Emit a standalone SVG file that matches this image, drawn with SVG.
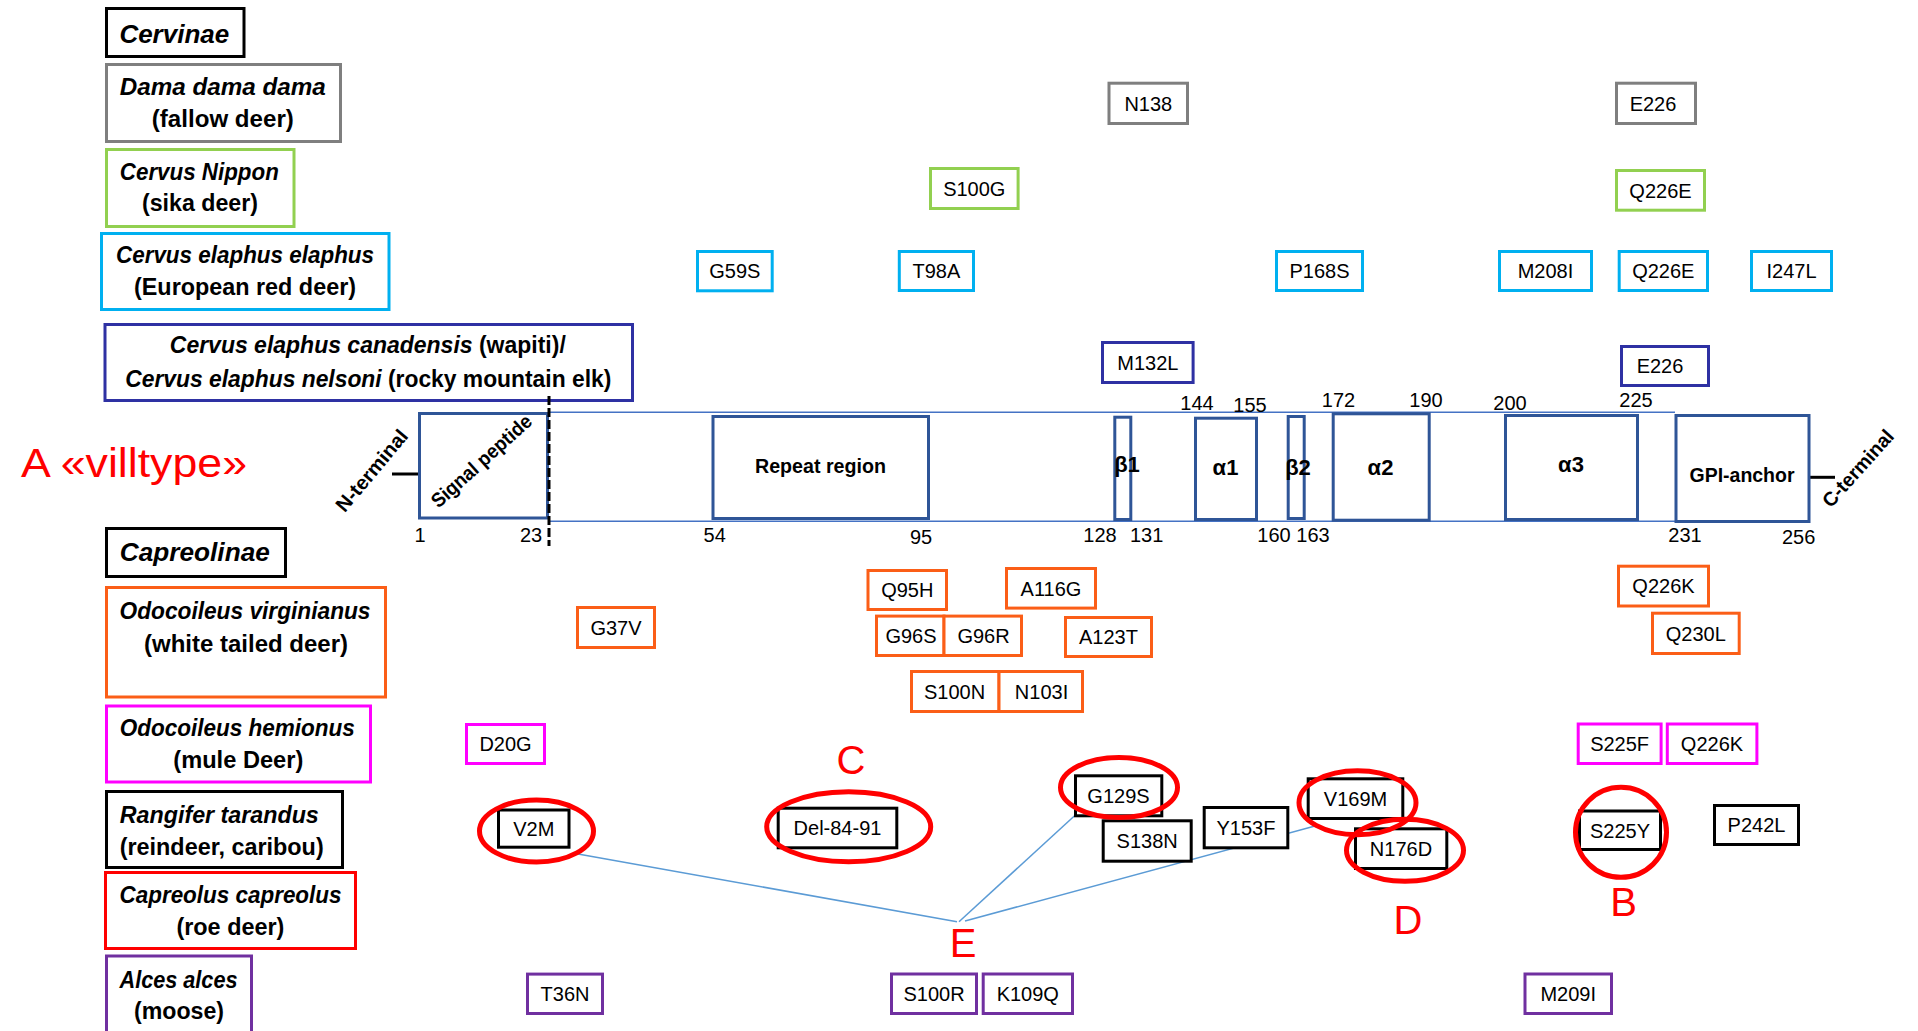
<svg xmlns="http://www.w3.org/2000/svg" width="1918" height="1031" viewBox="0 0 1918 1031">
<style>
.sp{fill:#fff;stroke-width:3}
.sx{font-family:"Liberation Sans",Arial,sans-serif;font-weight:bold;font-style:italic;font-size:23px;fill:#000;text-anchor:middle}
.up{font-style:normal}
.big{font-size:26px}
.mb{fill:#fff;stroke-width:3}
.mt{font-family:"Liberation Sans",Arial,sans-serif;font-size:20px;fill:#000;text-anchor:middle}
.dom{fill:#fff;stroke:#2f5597;stroke-width:3}
.dt{font-family:"Liberation Sans",Arial,sans-serif;font-weight:bold;font-size:20px;fill:#000;text-anchor:middle}
.gk{font-size:22px}
.num{font-family:"Liberation Sans",Arial,sans-serif;font-size:20px;fill:#000;text-anchor:middle}
.red{font-family:"Liberation Sans",Arial,sans-serif;font-size:40px;fill:#ff0000;text-anchor:middle}
.ell{fill:none;stroke:#ff0000;stroke-width:5}
.con{stroke:#5b9bd5;stroke-width:1.5;fill:none}
.k{stroke:#000}.g{stroke:#7f7f7f}.gr{stroke:#92d050}.c{stroke:#00b0f0}.db{stroke:#2e31a3}.o{stroke:#fb5e17}.m{stroke:#ff00ff}.r{stroke:#ff0000}.p{stroke:#7030a0}
</style>
<rect width="1918" height="1031" fill="#fff"/>

<!-- species legend -->
<g id="sp-cervinae"><rect class="sp k" x="106.5" y="8.5" width="137.5" height="48"/><text class="sx big" x="174.3" y="43">Cervinae</text></g>
<g id="sp-dama"><rect class="sp g" x="106.5" y="64.5" width="234" height="77"/><text class="sx" x="222.8" y="95" textLength="206" lengthAdjust="spacingAndGlyphs">Dama dama dama</text><text class="sx up" x="222.8" y="127" textLength="142" lengthAdjust="spacingAndGlyphs">(fallow deer)</text></g>
<g id="sp-nippon"><rect class="sp gr" x="106.5" y="149.5" width="187.5" height="77"/><text class="sx" x="199.3" y="180" textLength="159" lengthAdjust="spacingAndGlyphs">Cervus Nippon</text><text class="sx up" x="200" y="211" textLength="116" lengthAdjust="spacingAndGlyphs">(sika deer)</text></g>
<g id="sp-elaphus"><rect class="sp c" x="101.5" y="233.5" width="287.5" height="76"/><text class="sx" x="245" y="263" textLength="258" lengthAdjust="spacingAndGlyphs">Cervus elaphus elaphus</text><text class="sx up" x="245" y="295" textLength="222" lengthAdjust="spacingAndGlyphs">(European red deer)</text></g>
<g id="sp-canadensis"><rect class="sp db" x="105" y="324.5" width="527.5" height="76"/><text class="sx" x="367.8" y="353" textLength="396" lengthAdjust="spacingAndGlyphs">Cervus elaphus canadensis <tspan class="up">(wapiti)/</tspan></text><text class="sx" x="368.3" y="387" textLength="486" lengthAdjust="spacingAndGlyphs">Cervus elaphus nelsoni <tspan class="up">(rocky mountain elk)</tspan></text></g>
<g id="sp-capreolinae"><rect class="sp k" x="106.5" y="528.5" width="179" height="48"/><text class="sx big" x="194.8" y="561" textLength="150" lengthAdjust="spacingAndGlyphs">Capreolinae</text></g>
<g id="sp-virginianus"><rect class="sp o" x="106.5" y="587.5" width="279" height="109.5"/><text class="sx" x="245" y="619" textLength="251" lengthAdjust="spacingAndGlyphs">Odocoileus virginianus</text><text class="sx up" x="246" y="651.5" textLength="204" lengthAdjust="spacingAndGlyphs">(white tailed deer)</text></g>
<g id="sp-hemionus"><rect class="sp m" x="106.5" y="706" width="264" height="76"/><text class="sx" x="237.3" y="736" textLength="235" lengthAdjust="spacingAndGlyphs">Odocoileus hemionus</text><text class="sx up" x="238.3" y="768" textLength="130" lengthAdjust="spacingAndGlyphs">(mule Deer)</text></g>
<g id="sp-rangifer"><rect class="sp k" x="106.5" y="791.5" width="236" height="76"/><text class="sx" x="219.3" y="822.5" textLength="199" lengthAdjust="spacingAndGlyphs">Rangifer tarandus</text><text class="sx up" x="221.7" y="854.7" textLength="204" lengthAdjust="spacingAndGlyphs">(reindeer, caribou)</text></g>
<g id="sp-capreolus"><rect class="sp r" x="105.5" y="872.5" width="250" height="76"/><text class="sx" x="230.5" y="903" textLength="222" lengthAdjust="spacingAndGlyphs">Capreolus capreolus</text><text class="sx up" x="230.4" y="935" textLength="108" lengthAdjust="spacingAndGlyphs">(roe deer)</text></g>
<g id="sp-alces"><rect class="sp p" x="106.5" y="956" width="145" height="90"/><text class="sx" x="178.5" y="987.5" textLength="118" lengthAdjust="spacingAndGlyphs">Alces alces</text><text class="sx up" x="179" y="1019" textLength="90" lengthAdjust="spacingAndGlyphs">(moose)</text></g>

<!-- protein -->
<g id="protein">
<line x1="549" y1="412.3" x2="1675" y2="412.3" stroke="#4472c4" stroke-width="1.5"/>
<line x1="549" y1="521.3" x2="1675" y2="521.3" stroke="#4472c4" stroke-width="1.5"/>
<line x1="392" y1="474" x2="418" y2="474" stroke="#000" stroke-width="3"/>
<line x1="1810" y1="477.3" x2="1835" y2="477.3" stroke="#000" stroke-width="3"/>
<rect class="dom" x="419.5" y="413.5" width="128" height="104.5"/>
<rect class="dom" x="713" y="416.5" width="215.5" height="102"/>
<rect class="dom" x="1114.8" y="417.2" width="16" height="102.3"/>
<rect class="dom" x="1195.5" y="418.2" width="61" height="101.3"/>
<rect class="dom" x="1288.2" y="416.5" width="16" height="102"/>
<rect class="dom" x="1333.2" y="413.8" width="96" height="106.4"/>
<rect class="dom" x="1505.5" y="415.5" width="132" height="104"/>
<rect class="dom" x="1676" y="415.5" width="133" height="106"/>
<line x1="549" y1="396" x2="549" y2="546" stroke="#000" stroke-width="3" stroke-dasharray="9 3"/>
<text class="dt" transform="translate(377,475) rotate(-50)" font-size="19" textLength="100" lengthAdjust="spacingAndGlyphs">N-terminal</text>
<text class="dt" transform="translate(486,466) rotate(-42)" font-size="19" textLength="128" lengthAdjust="spacingAndGlyphs">Signal peptide</text>
<text class="dt" transform="translate(1863,473) rotate(-48)" font-size="19" textLength="96" lengthAdjust="spacingAndGlyphs">C-terminal</text>
<text class="dt" x="820.5" y="473.4" textLength="131" lengthAdjust="spacingAndGlyphs">Repeat region</text>
<text class="dt gk" x="1127" y="471.7">β1</text>
<text class="dt gk" x="1225.5" y="475">α1</text>
<text class="dt gk" x="1298" y="475">β2</text>
<text class="dt gk" x="1380.5" y="475">α2</text>
<text class="dt gk" x="1571" y="472">α3</text>
<text class="dt" x="1742" y="481.7" textLength="105" lengthAdjust="spacingAndGlyphs">GPI-anchor</text>
<text class="num" x="420" y="542">1</text>
<text class="num" x="531" y="542">23</text>
<text class="num" x="714.7" y="542">54</text>
<text class="num" x="921" y="544">95</text>
<text class="num" x="1100" y="542">128</text>
<text class="num" x="1146.7" y="542">131</text>
<text class="num" x="1274" y="542">160</text>
<text class="num" x="1313" y="542">163</text>
<text class="num" x="1685" y="542">231</text>
<text class="num" x="1798.6" y="544">256</text>
<text class="num" x="1197" y="410">144</text>
<text class="num" x="1250" y="411.5">155</text>
<text class="num" x="1338.5" y="407">172</text>
<text class="num" x="1426" y="407">190</text>
<text class="num" x="1510" y="410">200</text>
<text class="num" x="1636" y="407">225</text>
</g>

<text class="red" x="21" y="476.5" style="text-anchor:start" font-size="38" textLength="226" lengthAdjust="spacingAndGlyphs">A «villtype»</text>

<!-- connectors -->
<g id="connectors">
<line class="con" x1="578" y1="854" x2="957" y2="921.7"/>
<line class="con" x1="959" y1="921.7" x2="1077.3" y2="813.3"/>
<line class="con" x1="965" y1="921" x2="1315" y2="826"/>
</g>

<!-- mutation boxes -->
<g id="m-N138"><rect class="mb g" x="1109" y="83.2" width="78.5" height="40.3"/><text class="mt" x="1148.3" y="110.6">N138</text></g>
<g id="m-E226-dama"><rect class="mb g" x="1616.5" y="83.2" width="79" height="40.3"/><text class="mt" x="1653" y="110.6">E226</text></g>
<g id="m-S100G"><rect class="mb gr" x="930.5" y="168.5" width="87.6" height="40"/><text class="mt" x="974.3" y="195.7">S100G</text></g>
<g id="m-Q226E-sika"><rect class="mb gr" x="1616.5" y="170.5" width="88" height="39.7"/><text class="mt" x="1660.5" y="197.5">Q226E</text></g>
<g id="m-G59S"><rect class="mb c" x="697.5" y="251.5" width="74.7" height="39.3"/><text class="mt" x="734.8" y="278.4">G59S</text></g>
<g id="m-T98A"><rect class="mb c" x="899.3" y="251.5" width="74.2" height="39"/><text class="mt" x="936.4" y="278.2">T98A</text></g>
<g id="m-P168S"><rect class="mb c" x="1276.5" y="251.5" width="86" height="39"/><text class="mt" x="1319.5" y="278.2">P168S</text></g>
<g id="m-M208I"><rect class="mb c" x="1499.5" y="251.5" width="92" height="39"/><text class="mt" x="1545.5" y="278.2">M208I</text></g>
<g id="m-Q226E-red"><rect class="mb c" x="1619.2" y="251.5" width="88.3" height="39"/><text class="mt" x="1663.3" y="278.2">Q226E</text></g>
<g id="m-I247L"><rect class="mb c" x="1751.5" y="251.5" width="80" height="39"/><text class="mt" x="1791.5" y="278.2">I247L</text></g>
<g id="m-M132L"><rect class="mb db" x="1102.5" y="342.5" width="90.6" height="40"/><text class="mt" x="1147.8" y="369.7">M132L</text></g>
<g id="m-E226-elk"><rect class="mb db" x="1621.5" y="346.5" width="87" height="39"/><text class="mt" x="1660" y="373.2">E226</text></g>

<g id="m-G37V"><rect class="mb o" x="577.5" y="607.5" width="77" height="40"/><text class="mt" x="616" y="634.7">G37V</text></g>
<g id="m-Q95H"><rect class="mb o" x="868" y="570.5" width="78.5" height="39"/><text class="mt" x="907.3" y="597.2">Q95H</text></g>
<g id="m-A116G"><rect class="mb o" x="1006.5" y="568.5" width="89" height="39.6"/><text class="mt" x="1051" y="595.5">A116G</text></g>
<g id="m-G96S"><rect class="mb o" x="876.5" y="616.1" width="67.5" height="39.4"/><text class="mt" x="911" y="643">G96S</text></g>
<g id="m-G96R"><rect class="mb o" x="944" y="616.1" width="77.5" height="39.4"/><text class="mt" x="983.5" y="643">G96R</text></g>
<g id="m-A123T"><rect class="mb o" x="1065.5" y="617.5" width="86" height="39"/><text class="mt" x="1108.5" y="644.2">A123T</text></g>
<g id="m-S100N"><rect class="mb o" x="911.5" y="671.5" width="87.5" height="40"/><text class="mt" x="954.5" y="698.7">S100N</text></g>
<g id="m-N103I"><rect class="mb o" x="999" y="671.5" width="83.5" height="40"/><text class="mt" x="1041.5" y="698.7">N103I</text></g>
<g id="m-Q226K-wt"><rect class="mb o" x="1618.5" y="566.2" width="90" height="39.8"/><text class="mt" x="1663.5" y="593.3">Q226K</text></g>
<g id="m-Q230L"><rect class="mb o" x="1652.5" y="613.2" width="86.7" height="40.3"/><text class="mt" x="1695.8" y="640.6">Q230L</text></g>

<g id="m-D20G"><rect class="mb m" x="466.5" y="724.5" width="78" height="39"/><text class="mt" x="505.5" y="751.2">D20G</text></g>
<g id="m-S225F"><rect class="mb m" x="1578.2" y="724" width="82.9" height="39.5"/><text class="mt" x="1619.6" y="751">S225F</text></g>
<g id="m-Q226K-mule"><rect class="mb m" x="1667.3" y="724" width="89.6" height="39.5"/><text class="mt" x="1712" y="751">Q226K</text></g>

<g id="m-V2M"><rect class="mb k" x="498.5" y="810" width="70.5" height="37.2"/><text class="mt" x="533.8" y="835.8">V2M</text></g>
<g id="m-Del"><rect class="mb k" x="778.2" y="808.2" width="118.6" height="39.6"/><text class="mt" x="837.5" y="835.2">Del-84-91</text></g>
<g id="m-G129S"><rect class="mb k" x="1075.5" y="775.8" width="86.3" height="40"/><text class="mt" x="1118.5" y="803">G129S</text></g>
<g id="m-S138N"><rect class="mb k" x="1103.2" y="820.8" width="88" height="40.4"/><text class="mt" x="1147.2" y="848.2">S138N</text></g>
<g id="m-Y153F"><rect class="mb k" x="1204.2" y="807.5" width="83.6" height="40.3"/><text class="mt" x="1246" y="834.9">Y153F</text></g>
<g id="m-V169M"><rect class="mb k" x="1308.2" y="778.8" width="94.6" height="39.7"/><text class="mt" x="1355.5" y="805.8">V169M</text></g>
<g id="m-N176D"><rect class="mb k" x="1355.5" y="828.8" width="91.3" height="39.7"/><text class="mt" x="1401" y="855.8">N176D</text></g>
<g id="m-S225Y"><rect class="mb k" x="1579.5" y="811" width="81" height="38.5"/><text class="mt" x="1620" y="837.5">S225Y</text></g>
<g id="m-P242L"><rect class="mb k" x="1714.5" y="805.5" width="84" height="39"/><text class="mt" x="1756.5" y="832.2">P242L</text></g>

<g id="m-T36N"><rect class="mb p" x="527.5" y="974.1" width="75" height="39.4"/><text class="mt" x="565" y="1001">T36N</text></g>
<g id="m-S100R"><rect class="mb p" x="891.5" y="974" width="85" height="39.5"/><text class="mt" x="934" y="1001">S100R</text></g>
<g id="m-K109Q"><rect class="mb p" x="983.2" y="974" width="89.3" height="39.5"/><text class="mt" x="1027.8" y="1001">K109Q</text></g>
<g id="m-M209I"><rect class="mb p" x="1525" y="974" width="86.5" height="39.5"/><text class="mt" x="1568.2" y="1001">M209I</text></g>

<!-- highlights -->
<g id="highlights">
<ellipse class="ell" cx="536.5" cy="831" rx="57" ry="31"/>
<ellipse class="ell" cx="848.7" cy="826.7" rx="82" ry="35"/>
<ellipse class="ell" cx="1119" cy="787.5" rx="58.5" ry="30"/>
<ellipse class="ell" cx="1357.5" cy="802.8" rx="58.5" ry="32"/>
<ellipse class="ell" cx="1405" cy="850.3" rx="58.5" ry="31"/>
<ellipse class="ell" cx="1621" cy="832.3" rx="45.5" ry="45"/>
<text class="red" x="851" y="774">C</text>
<text class="red" x="1408" y="934">D</text>
<text class="red" x="1623.5" y="916">B</text>
<text class="red" x="963" y="956.7">E</text>
</g>
</svg>
